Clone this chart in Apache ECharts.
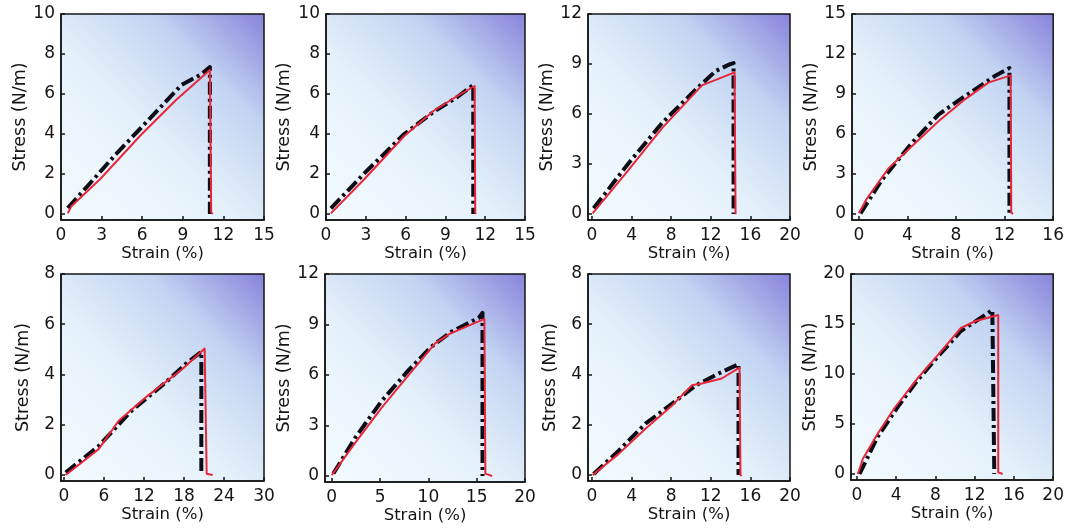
<!DOCTYPE html>
<html>
<head>
<meta charset="utf-8">
<script src="https://cdn.jsdelivr.net/npm/echarts@6/dist/echarts.min.js"></script>
<style>
  html, body { margin: 0; padding: 0; background: #ffffff; }
  #chart { width: 1067px; height: 529px; }
</style>
</head>
<body>
<div id="chart"></div>
<script>
// Stress–strain curves for eight samples: measured (black dash-dot) vs. simulated (red).

// Tick values for each panel (strain in %, stress in N/m)
const xTicks1 = [0, 3, 6, 9, 12, 15];
const xTicks2 = [0, 3, 6, 9, 12, 15];
const xTicks3 = [0, 4, 8, 12, 16, 20];
const xTicks4 = [0, 4, 8, 12, 16];
const xTicks5 = [0, 6, 12, 18, 24, 30];
const xTicks6 = [0, 5, 10, 15, 20];
const xTicks7 = [0, 4, 8, 12, 16, 20];
const xTicks8 = [0, 4, 8, 12, 16, 20];

const yTicks1 = [0, 2, 4, 6, 8, 10];
const yTicks2 = [0, 2, 4, 6, 8, 10];
const yTicks3 = [0, 3, 6, 9, 12];
const yTicks4 = [0, 3, 6, 9, 12, 15];
const yTicks5 = [0, 2, 4, 6, 8];
const yTicks6 = [0, 3, 6, 9, 12];
const yTicks7 = [0, 2, 4, 6, 8];
const yTicks8 = [0, 5, 10, 15, 20];

// Curves: [strain, stress]
const black1 = [[0.5, 0.3], [2.1, 1.5], [4, 2.95], [5.9, 4.3], [8.9, 6.45], [10.4, 7.0], [11.0, 7.35], [11.0, 0]];
const red1   = [[0.5, 0.03], [0.75, 0.37], [2.9, 1.75], [5.9, 3.95], [8.5, 5.7], [11.0, 7.2], [11.1, 0.1], [11.2, 0]];

const black2 = [[0.37, 0.28], [2.9, 2.04], [5.9, 4.0], [8.1, 5.1], [9.9, 5.85], [11.1, 6.45], [11.1, 0]];
const red2   = [[0.37, 0.03], [2.9, 1.75], [5.9, 3.9], [8.1, 5.15], [9.9, 5.9], [11.2, 6.4], [11.25, 0.05], [11.3, 0]];

const black3 = [[0.17, 0.34], [3.7, 3.05], [7.1, 5.47], [10.5, 7.48], [12.5, 8.58], [13.9, 8.98], [14.3, 9.05], [14.3, 0]];
const red3   = [[0.07, 0.04], [3.7, 2.65], [7.1, 5.17], [10.1, 7.07], [11.1, 7.72], [14.4, 8.5], [14.5, 0.05], [14.55, 0]];

const black4 = [[0.14, 0.05], [1.9, 2.56], [4.37, 5.33], [6.56, 7.46], [8.74, 8.84], [11.2, 10.35], [12.4, 10.95], [12.4, 0]];
const red4   = [[0.0, 0.05], [0.68, 1.18], [2.46, 3.44], [4.37, 5.08], [6.56, 6.96], [8.74, 8.6], [10.66, 9.85], [12.5, 10.4], [12.55, 0.1], [12.7, 0]];

const black5 = [[0.25, 0.1], [5.2, 1.15], [10.1, 2.55], [15.1, 3.65], [18.6, 4.5], [20.6, 4.9], [20.6, 0]];
const red5   = [[0.25, 0.0], [5.2, 1.03], [8.2, 2.16], [12.6, 3.16], [17.8, 4.23], [21.1, 5.03], [21.4, 0.05], [22.3, 0]];

const black6 = [[0.17, 0.14], [2.4, 2.25], [5.17, 4.46], [7.93, 6.27], [10.3, 7.68], [12.4, 8.58], [15.2, 9.39], [15.6, 9.69], [15.6, 0]];
const red6   = [[0.0, 0.04], [2.4, 1.95], [5.17, 4.06], [7.93, 5.97], [10.7, 7.88], [12.2, 8.44], [15.8, 9.33], [15.9, 0.14], [16.6, 0]];

const black7 = [[0.17, 0.04], [2.7, 0.97], [5.4, 2.04], [8.1, 2.84], [10.5, 3.57], [12.8, 4.04], [14.8, 4.41], [14.8, 0]];
const red7   = [[0.07, 0.0], [2.7, 0.84], [5.4, 1.84], [8.1, 2.77], [10.1, 3.57], [11.1, 3.64], [13.1, 3.84], [14.9, 4.27], [15.0, 0.0], [15.1, -0.05]];

const black8 = [[0.27, 0.0], [2.1, 3.7], [4.17, 6.72], [6.2, 9.41], [8.58, 12.1], [10.6, 14.3], [12.6, 15.6], [13.8, 16.4], [14.0, 0]];
const red8   = [[0.1, 0.0], [0.6, 1.5], [2.1, 4.0], [3.8, 6.55], [6.2, 9.58], [8.58, 12.27], [10.6, 14.6], [12.1, 15.3], [14.4, 15.9], [14.4, 0.17], [14.85, 0]];

const xTicks = [xTicks1, xTicks2, xTicks3, xTicks4, xTicks5, xTicks6, xTicks7, xTicks8];
const yTicks = [yTicks1, yTicks2, yTicks3, yTicks4, yTicks5, yTicks6, yTicks7, yTicks8];
const blackCurves = [black1, black2, black3, black4, black5, black6, black7, black8];
const redCurves = [red1, red2, red3, red4, red5, red6, red7, red8];

// Panel boxes in pixels and the small padding left of 0 on each strain axis
const layout = [
  { left: 61,  top: 14,  width: 203, height: 206, xPad: 0.0,   yGap: 31 },
  { left: 326, top: 14,  width: 199, height: 206, xPad: 0.0,   yGap: 33 },
  { left: 588, top: 14,  width: 202, height: 206, xPad: 0.02,  yGap: 28 },
  { left: 852, top: 14,  width: 202, height: 206, xPad: 0.035, yGap: 28 },
  { left: 61,  top: 274, width: 203, height: 207, xPad: 0.015, yGap: 29 },
  { left: 325, top: 274, width: 200, height: 208, xPad: 0.035, yGap: 28 },
  { left: 588, top: 274, width: 202, height: 207, xPad: 0.02,  yGap: 29 },
  { left: 851, top: 274, width: 203, height: 206, xPad: 0.03,  yGap: 28 }
];

const FONT = '"DejaVu Sans", "Open Sans", sans-serif';
const ink = '#151515';

const plotFill = {
  type: 'linear', x: 0, y: 1, x2: 1, y2: 0,
  colorStops: [
    { offset: 0, color: '#f3fbfe' },
    { offset: 0.42, color: '#e5f1fa' },
    { offset: 0.72, color: '#c2d4f2' },
    { offset: 1, color: '#8882db' }
  ]
};

const grids = [], xAxes = [], yAxes = [], series = [];

layout.forEach((box, i) => {
  const xt = xTicks[i], yt = yTicks[i];
  const xMax = xt[xt.length - 1], yMax = yt[yt.length - 1];

  grids.push({
    left: box.left, top: box.top, width: box.width, height: box.height,
    show: true, backgroundColor: plotFill,
    borderColor: ink, borderWidth: 1.5
  });

  xAxes.push({
    type: 'value', gridIndex: i,
    min: -xMax * box.xPad, max: xMax,
    name: 'Strain (%)', nameLocation: 'middle', nameGap: 25,
    nameTextStyle: { fontFamily: FONT, fontSize: 16.5, color: ink },
    axisLine: { show: true, onZero: false, lineStyle: { color: ink, width: 1.5 } },
    axisTick: { show: true, inside: true, length: 4, customValues: xt, lineStyle: { color: ink, width: 1.5 } },
    axisLabel: { customValues: xt, margin: 7, fontFamily: FONT, fontSize: 17, color: ink, showMinLabel: true, showMaxLabel: true },
    splitLine: { show: false }
  });

  yAxes.push({
    type: 'value', gridIndex: i,
    min: -yMax * 0.03, max: yMax,
    name: 'Stress (N/m)', nameLocation: 'middle', nameGap: box.yGap,
    nameTextStyle: { fontFamily: FONT, fontSize: 17.5, color: ink },
    axisLine: { show: true, onZero: false, lineStyle: { color: ink, width: 1.5 } },
    axisTick: { show: true, inside: true, length: 4, customValues: yt, lineStyle: { color: ink, width: 1.5 } },
    axisLabel: { customValues: yt, margin: 6, fontFamily: FONT, fontSize: 17, color: ink, showMinLabel: true, showMaxLabel: true },
    splitLine: { show: false }
  });

  series.push({
    type: 'line', xAxisIndex: i, yAxisIndex: i,
    data: blackCurves[i], showSymbol: false, symbol: 'none', silent: true,
    lineStyle: { color: '#0c0d16', width: 4, type: [13, 4, 3, 4], cap: 'butt', join: 'round' },
    z: 2
  });
  series.push({
    type: 'line', xAxisIndex: i, yAxisIndex: i,
    data: redCurves[i], showSymbol: false, symbol: 'none', silent: true,
    lineStyle: { color: '#e8283a', width: 2, join: 'round' },
    z: 3
  });
});

const chart = echarts.init(document.getElementById('chart'), null, { renderer: 'canvas' });
chart.setOption({
  animation: false,
  backgroundColor: '#ffffff',
  grid: grids, xAxis: xAxes, yAxis: yAxes, series: series
});
</script>
</body>
</html>
